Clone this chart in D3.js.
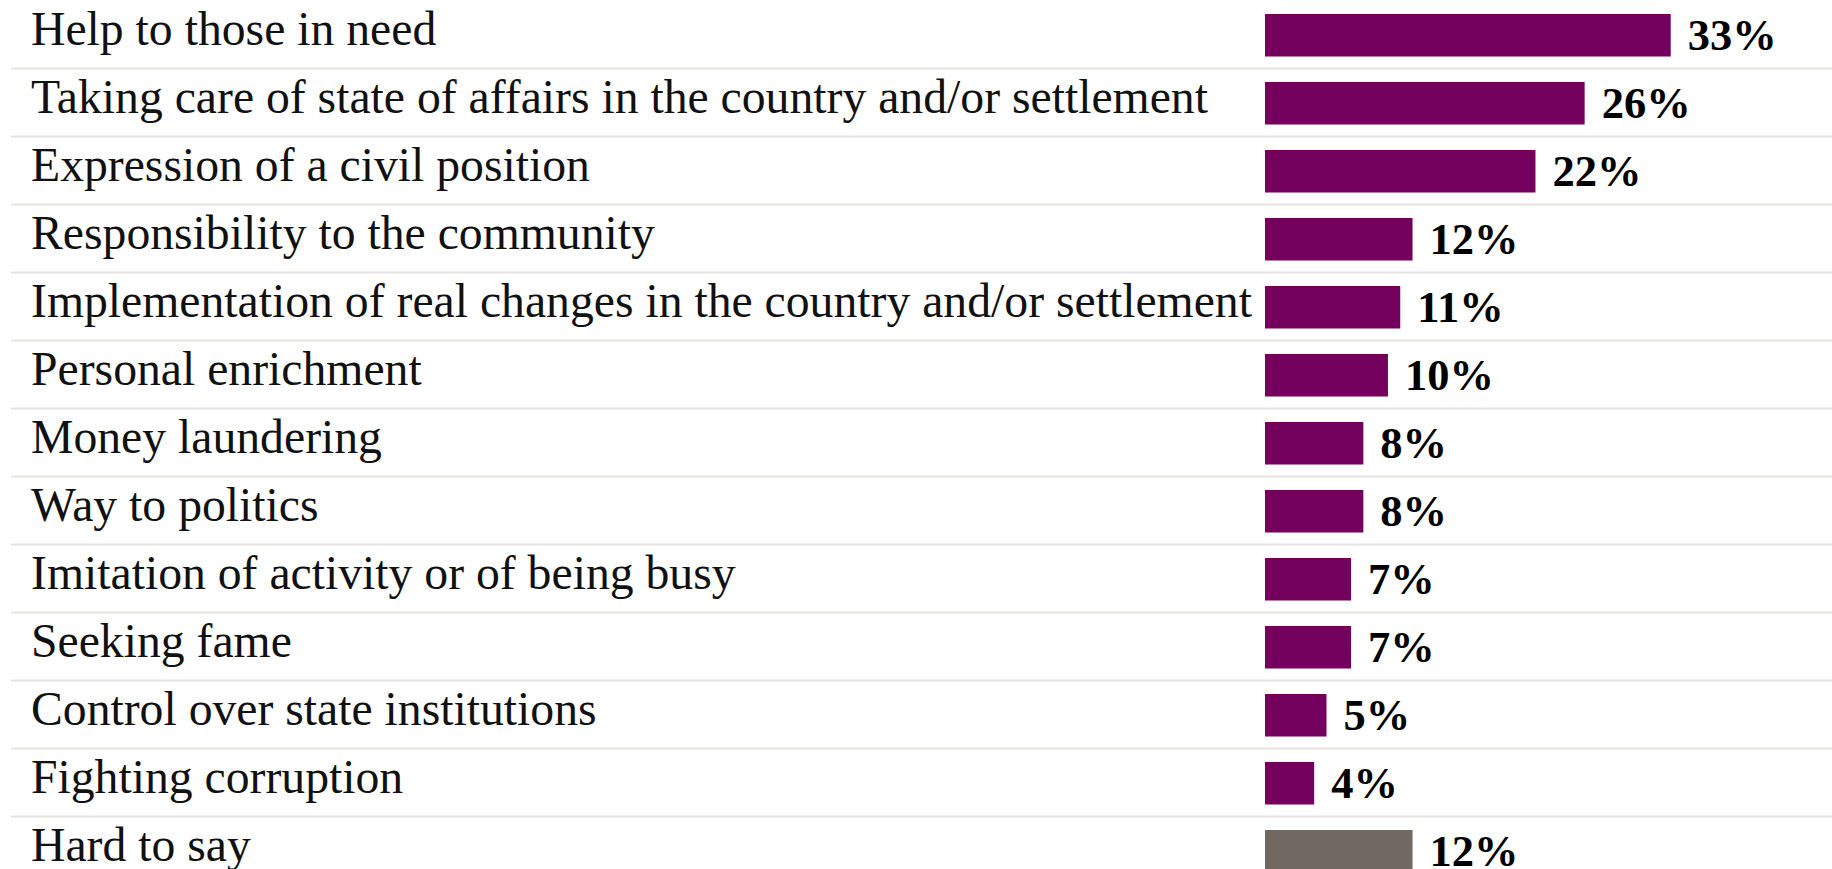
<!DOCTYPE html>
<html>
<head>
<meta charset="utf-8">
<script src="https://cdn.jsdelivr.net/npm/d3@7"></script>
<style>
  html, body { margin: 0; padding: 0; background: #ffffff; overflow: hidden; }
  svg { display: block; }
</style>
</head>
<body>
<svg id="chart" width="1832" height="869"></svg>
<script>
const categories = [
  "Help to those in need",
  "Taking care of state of affairs in the country and/or settlement",
  "Expression of a civil position",
  "Responsibility to the community",
  "Implementation of real changes in the country and/or settlement",
  "Personal enrichment",
  "Money laundering",
  "Way to politics",
  "Imitation of activity or of being busy",
  "Seeking fame",
  "Control over state institutions",
  "Fighting corruption",
  "Hard to say"
];
const values = [33, 26, 22, 12, 11, 10, 8, 8, 7, 7, 5, 4, 12];
const highlight = [false, false, false, false, false, false, false, false, false, false, false, false, true];

const data = categories.map((c, i) => ({ cat: c, val: values[i], other: highlight[i] }));

const W = 1832, H = 869;
const rowH = 68;
const svg = d3.select("#chart");

const y = d3.scaleBand().domain(categories).range([0, rowH * categories.length]).padding(0);
const x = d3.scaleLinear().domain([0, 33]).range([1265, 1670.7]);

const labelFont = "'Liberation Serif', 'Times New Roman', serif";

// separators
svg.append("g").selectAll("line")
  .data(categories.slice(1))
  .join("line")
  .attr("x1", 11).attr("x2", W)
  .attr("y1", d => y(d) + 0.5).attr("y2", d => y(d) + 0.5)
  .attr("stroke", "#e6e3e0").attr("stroke-width", 2);

// category labels
const catText = svg.append("g").selectAll("text")
  .data(data)
  .join("text")
  .attr("x", 31)
  .attr("y", d => y(d.cat) + 45)
  .attr("font-family", labelFont)
  .attr("font-size", 43)
  .attr("fill", "#111")
  .text(d => d.cat);

// fit longest label to reference width (~1221px)
let maxW = 0;
catText.each(function() { maxW = Math.max(maxW, this.getComputedTextLength()); });
const catSize = 43 * 1221 / maxW;
catText.attr("font-size", catSize);

// bars
svg.append("g").selectAll("rect")
  .data(data)
  .join("rect")
  .attr("x", x(0))
  .attr("y", d => y(d.cat) + 14)
  .attr("width", d => x(d.val) - x(0))
  .attr("height", 42.5)
  .attr("fill", d => d.other ? "#716862" : "#73005c");

// value labels
const valText = svg.append("g").selectAll("text")
  .data(data)
  .join("text")
  .attr("x", d => x(d.val) + 17)
  .attr("y", d => y(d.cat) + 50)
  .attr("font-family", labelFont)
  .attr("font-weight", "bold")
  .attr("font-size", 44)
  .attr("fill", "#000")
  .text(d => d.val + "%");
let w33 = valText.filter((d, i) => i === 0).node().getComputedTextLength();
valText.attr("font-size", 44 * 89 / w33);
</script>
</body>
</html>
